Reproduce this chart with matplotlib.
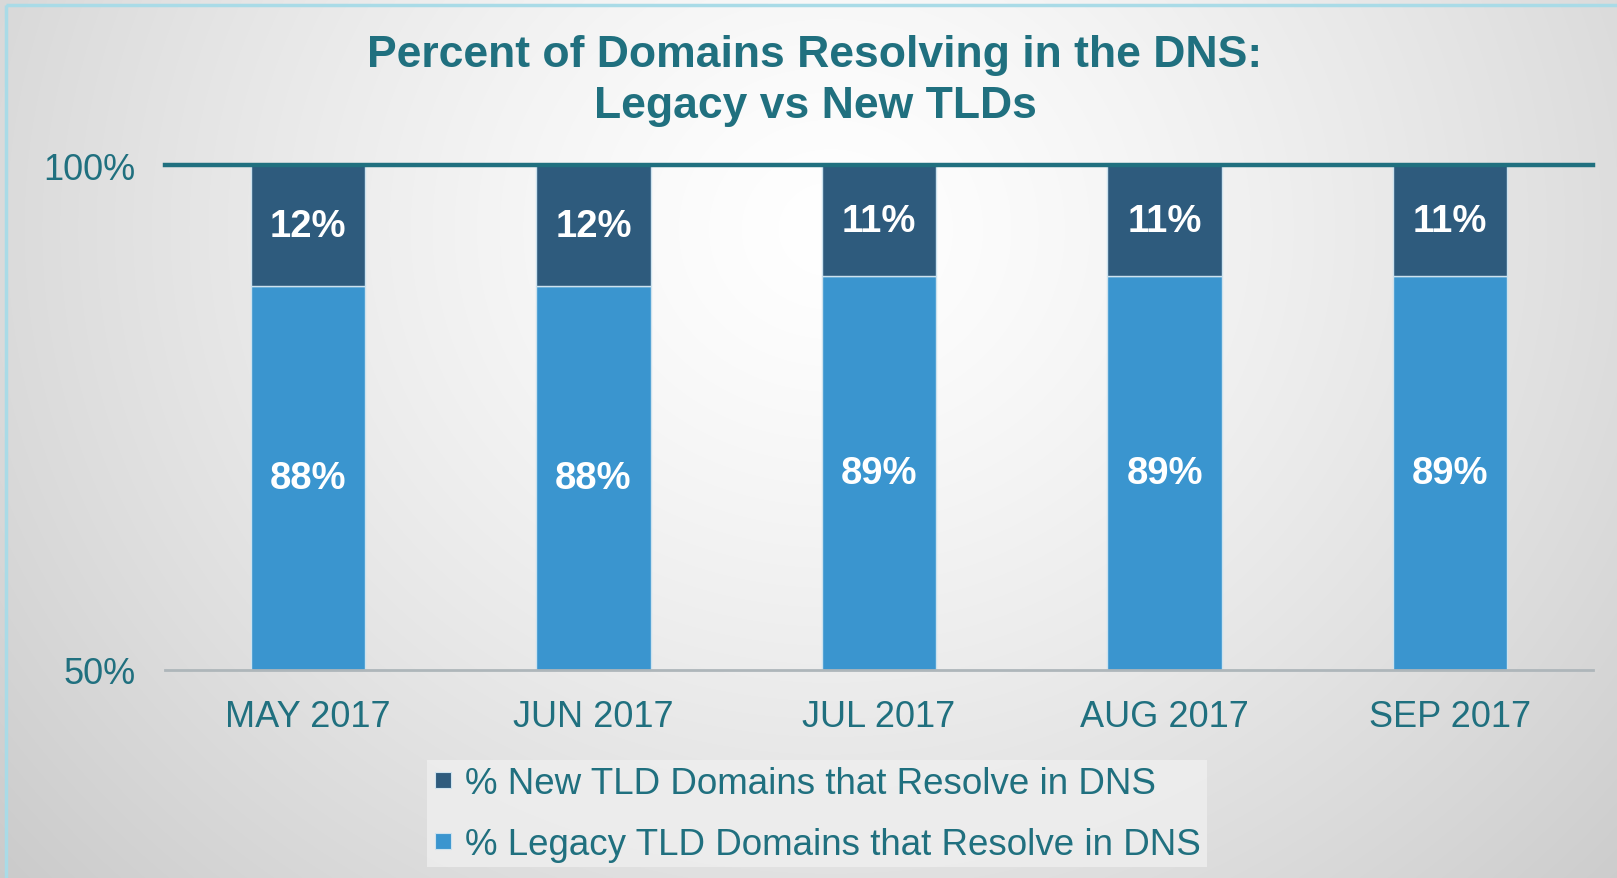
import numpy as np
import matplotlib
matplotlib.use("Agg")
import matplotlib.pyplot as plt
from matplotlib.lines import Line2D
from matplotlib.patches import Rectangle

# ---- data ----
months = ["MAY 2017", "JUN 2017", "JUL 2017", "AUG 2017", "SEP 2017"]
legacy_pct = [88, 88, 89, 89, 89]
new_pct = [12, 12, 11, 11, 11]
y_ticks = [50, 100]
y_tick_labels = ["50%", "100%"]
series_names = ["% New TLD Domains that Resolve in DNS",
                "% Legacy TLD Domains that Resolve in DNS"]

TEAL = "#20707f"
DARK = "#2e5b7d"
LIGHT = "#3a95cf"
FONT = "Liberation Sans"

W, H = 1617, 879
fig = plt.figure(figsize=(W / 100, H / 100), dpi=100)

# ---- background gradient + frame ----
bg = fig.add_axes([0, 0, 1, 1], zorder=-10)
yy, xx = np.mgrid[0:H, 0:W]
r = np.sqrt(((xx - 830) / 1.0) ** 2 + ((yy - 230) / 0.9) ** 2)
v = 1.0 - 0.17 * np.clip(r / 950, 0, 1.2) ** 1.3
img = np.dstack([v, v, v])
bg.imshow(img, extent=[0, W, H, 0], aspect="auto", interpolation="bilinear")
bg.add_patch(Rectangle((6, 6), W + 50, H + 50, fill=False,
                       edgecolor="#a9dbe7", linewidth=2.5))
bg.set_xlim(0, W)
bg.set_ylim(H, 0)
bg.axis("off")

# ---- main axes ----
ax = fig.add_axes([165 / W, 1 - 671 / H, (1593 - 165) / W, (671 - 166) / H])
ax.patch.set_alpha(0)
x = np.arange(len(months))
width = 0.4
ax.bar(x, legacy_pct, width, color=LIGHT, edgecolor="#cde2ee", linewidth=1,
       zorder=2)
ax.bar(x, new_pct, width, bottom=legacy_pct, color=DARK, edgecolor="#cde2ee",
       linewidth=1, zorder=2)

ax.set_ylim(50, 100)
ax.set_xlim(-0.5, len(months) - 0.5)
ax.axhline(100, color=TEAL, linewidth=3.2, zorder=3, clip_on=False)
ax.axhline(50, color="#aeb6ba", linewidth=2, zorder=3, clip_on=False)
for s in ax.spines.values():
    s.set_visible(False)

for xi, lg, nw in zip(x, legacy_pct, new_pct):
    ax.text(xi, (50 + lg) / 2, f"{lg}%", ha="center", va="center",
            color="white", fontsize=27.5, fontweight="bold", family=FONT,
            zorder=4)
    ax.text(xi, lg + nw / 2, f"{nw}%", ha="center", va="center",
            color="white", fontsize=27.5, fontweight="bold", family=FONT,
            zorder=4)

ax.set_yticks(y_ticks)
ax.set_yticklabels(y_tick_labels, fontsize=26, color=TEAL, family=FONT)
ax.set_xticks(x)
ax.set_xticklabels(months, fontsize=26, color=TEAL, family=FONT)
ax.tick_params(axis="y", length=0, pad=21)
ax.tick_params(axis="x", length=0, pad=21)

# ---- title ----
fig.text(0.504, 0.937, "Percent of Domains Resolving in the DNS:",
         ha="center", va="center", fontsize=32, fontweight="bold",
         color=TEAL, family=FONT)
fig.text(0.504, 0.879, "Legacy vs New TLDs",
         ha="center", va="center", fontsize=32, fontweight="bold",
         color=TEAL, family=FONT)

# ---- legend ----
handles = [Line2D([], [], marker="s", linestyle="none", markersize=12,
                  markerfacecolor=DARK, markeredgecolor="#cde2ee",
                  markeredgewidth=0.8),
           Line2D([], [], marker="s", linestyle="none", markersize=12,
                  markerfacecolor=LIGHT, markeredgecolor="#cde2ee",
                  markeredgewidth=0.8)]
leg = fig.legend(handles, series_names, loc="center",
                 bbox_to_anchor=(0.505, 0.073), frameon=True,
                 prop={"family": FONT, "size": 26.5}, labelcolor=TEAL,
                 handlelength=0.6, handletextpad=0.3, labelspacing=0.7,
                 borderpad=0.15, fancybox=False)
leg.get_frame().set_facecolor("#efefef")
leg.get_frame().set_edgecolor("none")
leg.get_frame().set_alpha(0.8)

fig.savefig("out.png", dpi=100)
